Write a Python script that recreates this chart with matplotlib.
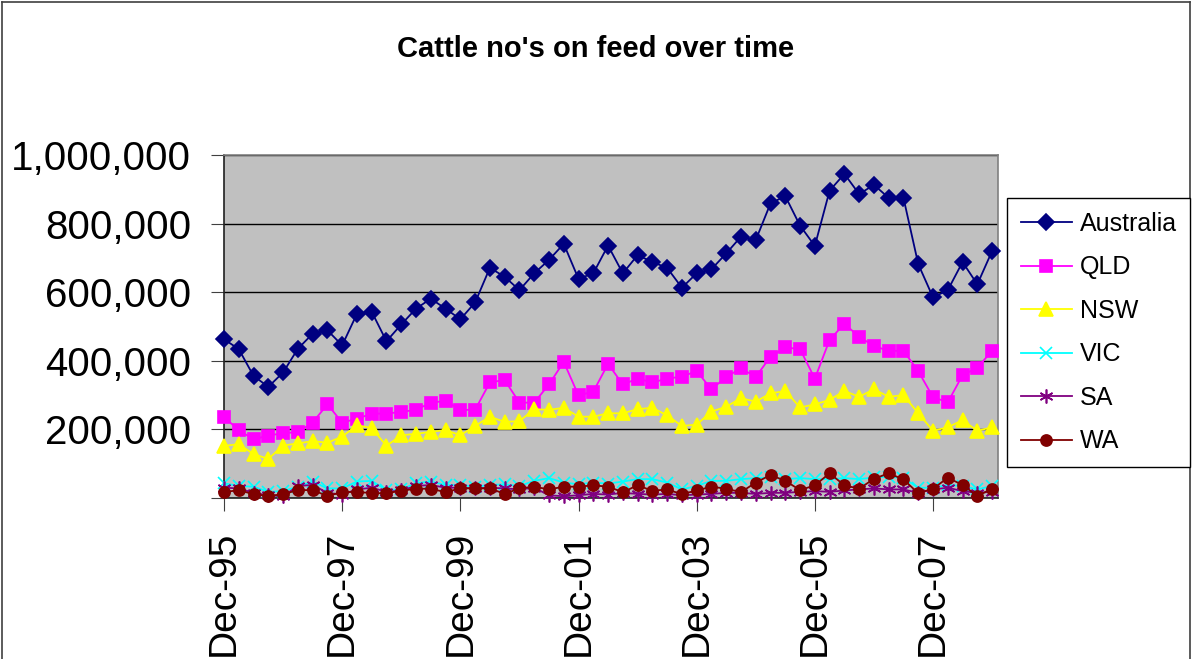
import matplotlib
matplotlib.use("Agg")
import matplotlib.pyplot as plt
from matplotlib.ticker import FuncFormatter, FixedLocator
from matplotlib.lines import Line2D

plt.rcParams['font.family'] = ['Liberation Sans', 'DejaVu Sans']

title = "Cattle no's on feed over time"
# quarterly observations, Dec-95 .. Dec-08 (53 quarters)
tick_labels = ["Dec-95", "Dec-97", "Dec-99", "Dec-01", "Dec-03", "Dec-05", "Dec-07"]

australia = [463, 434, 356, 324, 366, 435, 479, 489, 445, 537, 543, 457, 506, 552, 581, 552, 521, 570,
             671, 645, 606, 655, 694, 741, 639, 655, 736, 655, 708, 688, 671, 613, 655, 667,
             713, 762, 752, 859, 880, 794, 735, 896, 945, 886, 913, 875, 875, 682, 585, 606, 688, 623, 720]
qld = [236, 198, 171, 182, 189, 192, 220, 273, 220, 231, 246, 246, 251, 257, 278, 283, 257, 257,
       337, 344, 278, 278, 331, 397, 299, 310, 391, 331, 348, 337, 348, 354, 370, 317,
       353, 378, 353, 412, 439, 434, 348, 461, 508, 470, 443, 429, 429, 370, 294, 279, 358, 380, 429]
nsw = [152, 157, 128, 114, 153, 159, 166, 161, 179, 212, 204, 152, 183, 187, 193, 198, 183, 210,
       237, 222, 224, 259, 257, 263, 237, 237, 247, 247, 259, 263, 241, 210, 214, 252,
       266, 291, 281, 305, 312, 264, 273, 286, 312, 295, 317, 295, 300, 247, 196, 206, 227, 196, 206]
vic = [43, 35, 33, 18, 20, 33, 48, 28, 28, 48, 50, 23, 25, 43, 48, 38, 38, 33,
       38, 40, 35, 50, 58, 45, 40, 45, 42, 48, 55, 55, 45, 25, 35, 50,
       50, 55, 58, 60, 55, 58, 55, 55, 58, 55, 60, 62, 58, 30, 30, 38, 35, 25, 35]
sa = [30, 28, 15, 8, 5, 35, 38, 15, 10, 25, 30, 18, 22, 35, 38, 30, 30, 28,
      30, 28, 25, 30, 8, 5, 8, 12, 10, 15, 12, 10, 12, 8, 10, 12,
      15, 15, 12, 15, 15, 18, 20, 18, 22, 25, 28, 25, 25, 15, 25, 30, 20, 15, 18]
wa = [17, 23, 11, 6, 11, 23, 23, 6, 17, 18, 14, 14, 21, 27, 27, 17, 28, 28,
      28, 12, 28, 33, 25, 33, 33, 37, 33, 17, 37, 21, 25, 11, 22, 33,
      27, 17, 45, 67, 50, 23, 37, 72, 37, 27, 56, 72, 54, 14, 27, 59, 38, 6, 27]

series = [
    ("Australia", australia, "#000080", "D", 8),
    ("QLD", qld, "#FF00FF", "s", 8),
    ("NSW", nsw, "#FFFF00", "^", 10),
    ("VIC", vic, "#00FFFF", "x", 8),
    ("SA", sa, "#800080", (6, 2, 0), 10),
    ("WA", wa, "#800000", "o", 8),
]

W, H = 1192, 659
fig = plt.figure(figsize=(W / 100, H / 100), dpi=100)
ax = fig.add_axes([224 / W, (H - 498) / H, (998 - 224) / W, (498 - 155) / H])
ax.set_facecolor("#C0C0C0")

x = list(range(len(australia)))
for name, vals, col, mk, ms in series:
    ax.plot(x, [v * 1000 for v in vals], color=col, marker=mk, markersize=ms,
            markeredgecolor=col, markerfacecolor=col, markeredgewidth=1.2,
            linewidth=1.3, label=name, clip_on=False, zorder=3)

ax.set_xlim(0, 52.4)
ax.set_ylim(0, 1_000_000)
ax.yaxis.set_major_locator(FixedLocator([0, 200000, 400000, 600000, 800000, 1000000]))
ax.yaxis.set_major_formatter(FuncFormatter(lambda v, p: "" if v == 0 else f"{int(v):,}"))
ax.grid(axis="y", color="black", linewidth=1.0, zorder=1)
ax.set_axisbelow(True)

ax.set_xticks([0, 8, 16, 24, 32, 40, 48])
ax.set_xticklabels(tick_labels, rotation=90, fontsize=28)
ax.tick_params(axis="x", direction="out", length=9.5, width=0.8, color="#404040", pad=14)
ax.tick_params(axis="y", direction="out", length=9.5, width=0.8, color="#404040",
               labelsize=29, pad=14)

for s in ["top", "right"]:
    ax.spines[s].set_color("#808080")
    ax.spines[s].set_linewidth(1.2)
for s in ["left", "bottom"]:
    ax.spines[s].set_color("#202020")
    ax.spines[s].set_linewidth(1.2)

fig.text(596 / W, 1 - 49 / H, title, ha="center", va="center", fontsize=21, fontweight="bold")

leg = fig.legend(loc="upper left", bbox_to_anchor=(1007 / W, 1 - 198 / H), fontsize=18,
                 frameon=True, fancybox=False, edgecolor="black", framealpha=1,
                 handlelength=2.05, labelspacing=0.78, borderpad=0.55, handletextpad=0.3,
                 borderaxespad=0)
leg.get_frame().set_linewidth(1.0)

# chart area border
fig.add_artist(Line2D([2 / W, 2 / W], [0, 1 - 2 / H], transform=fig.transFigure, color="#404040", lw=1.2))
fig.add_artist(Line2D([2 / W, 1 - 2 / W], [1 - 2 / H, 1 - 2 / H], transform=fig.transFigure, color="#404040", lw=1.2))
fig.add_artist(Line2D([1 - 2 / W, 1 - 2 / W], [0, 1 - 2 / H], transform=fig.transFigure, color="#404040", lw=1.2))

fig.savefig("out.png", dpi=100)
